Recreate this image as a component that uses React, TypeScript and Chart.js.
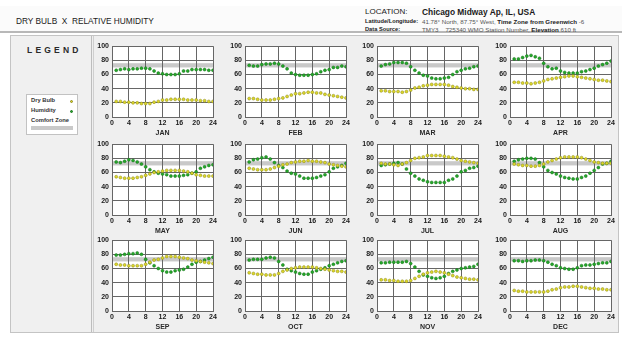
import React, { useEffect, useRef } from "react";
import { Chart, registerables } from "chart.js";
Chart.register(...registerables);

const MONTHS = ["JAN", "FEB", "MAR", "APR", "MAY", "JUN", "JUL", "AUG", "SEP", "OCT", "NOV", "DEC"];
const HOURS = [1, 2, 3, 4, 5, 6, 7, 8, 9, 10, 11, 12, 13, 14, 15, 16, 17, 18, 19, 20, 21, 22, 23, 24];
const X_TICK_STEP = 4;
const Y_TICK_STEP = 20;
const COMFORT_ZONE = [70, 76];

const HUM_JAN = [66, 67, 68, 67, 68, 68, 69, 69, 68, 65, 62, 61, 60, 60, 60, 61, 65, 65, 67, 67, 67, 67, 66, 66];
const DRY_JAN = [22, 22, 21, 21, 20, 20, 19, 19, 19, 21, 22, 24, 24, 25, 25, 25, 25, 24, 24, 24, 23, 23, 22, 22];
const HUM_FEB = [73, 72, 72, 74, 75, 75, 76, 75, 72, 68, 62, 60, 59, 59, 59, 60, 61, 64, 66, 67, 70, 70, 72, 71];
const DRY_FEB = [26, 26, 25, 24, 24, 24, 25, 26, 27, 29, 31, 33, 33, 34, 35, 35, 34, 34, 32, 31, 30, 29, 28, 27];
const HUM_MAR = [72, 74, 75, 77, 77, 77, 76, 71, 66, 62, 59, 58, 55, 54, 54, 55, 56, 60, 64, 66, 68, 69, 71, 72];
const DRY_MAR = [37, 37, 36, 36, 36, 35, 36, 38, 41, 42, 44, 45, 46, 46, 46, 46, 45, 43, 42, 41, 40, 40, 39, 39];
const HUM_APR = [82, 82, 84, 86, 87, 85, 83, 76, 71, 68, 69, 65, 63, 62, 62, 62, 64, 65, 67, 69, 72, 74, 76, 79];
const DRY_APR = [49, 49, 48, 48, 47, 48, 49, 51, 53, 54, 55, 56, 57, 58, 58, 57, 56, 55, 54, 53, 52, 52, 51, 50];
const HUM_MAY = [75, 74, 76, 78, 77, 75, 72, 68, 64, 61, 59, 58, 57, 55, 55, 55, 56, 57, 59, 61, 66, 68, 70, 71];
const DRY_MAY = [54, 53, 52, 52, 52, 53, 54, 56, 58, 60, 61, 62, 63, 63, 63, 63, 62, 61, 59, 57, 56, 55, 55, 55];
const HUM_JUN = [75, 78, 79, 81, 82, 79, 74, 70, 67, 62, 59, 58, 55, 52, 52, 52, 53, 55, 57, 61, 66, 68, 70, 73];
const DRY_JUN = [66, 65, 64, 64, 64, 65, 67, 69, 71, 72, 74, 75, 76, 76, 77, 76, 76, 75, 74, 72, 71, 70, 69, 68];
const HUM_JUL = [70, 71, 72, 73, 74, 72, 65, 59, 55, 51, 49, 47, 46, 46, 46, 46, 49, 51, 55, 61, 63, 66, 67, 69];
const DRY_JUL = [73, 72, 72, 71, 70, 72, 74, 77, 80, 81, 82, 84, 84, 84, 84, 83, 82, 81, 79, 77, 76, 75, 74, 73];
const HUM_AUG = [76, 78, 79, 80, 80, 79, 74, 68, 63, 60, 58, 55, 53, 52, 51, 51, 53, 55, 59, 63, 67, 72, 73, 76];
const DRY_AUG = [72, 71, 70, 70, 69, 69, 70, 72, 75, 77, 79, 81, 82, 82, 82, 82, 81, 79, 77, 75, 74, 73, 73, 73];
const HUM_SEP = [79, 79, 80, 81, 81, 82, 80, 73, 68, 64, 60, 57, 55, 55, 57, 58, 59, 62, 66, 69, 70, 72, 74, 76];
const DRY_SEP = [66, 65, 65, 64, 64, 64, 64, 66, 69, 72, 73, 75, 77, 77, 77, 76, 75, 74, 72, 71, 70, 69, 68, 67];
const HUM_OCT = [72, 73, 73, 73, 75, 76, 75, 70, 65, 59, 57, 55, 53, 52, 52, 55, 57, 59, 61, 64, 66, 68, 70, 71];
const DRY_OCT = [54, 53, 52, 52, 51, 51, 51, 53, 56, 58, 60, 61, 62, 62, 62, 62, 61, 60, 59, 58, 57, 56, 56, 55];
const HUM_NOV = [68, 68, 69, 69, 69, 69, 70, 67, 62, 56, 51, 49, 47, 46, 47, 49, 53, 56, 58, 60, 61, 62, 63, 66];
const DRY_NOV = [44, 44, 43, 43, 42, 42, 42, 43, 46, 49, 52, 54, 55, 56, 55, 54, 52, 50, 48, 47, 46, 45, 45, 44];
const HUM_DEC = [71, 71, 70, 71, 71, 72, 72, 71, 69, 66, 64, 61, 60, 59, 59, 61, 64, 65, 65, 66, 67, 68, 68, 70];
const DRY_DEC = [29, 28, 28, 27, 27, 27, 27, 27, 28, 30, 31, 33, 34, 34, 35, 35, 34, 33, 32, 32, 31, 31, 30, 30];

const HUMIDITY = [HUM_JAN, HUM_FEB, HUM_MAR, HUM_APR, HUM_MAY, HUM_JUN, HUM_JUL, HUM_AUG, HUM_SEP, HUM_OCT, HUM_NOV, HUM_DEC];
const DRY_BULB = [DRY_JAN, DRY_FEB, DRY_MAR, DRY_APR, DRY_MAY, DRY_JUN, DRY_JUL, DRY_AUG, DRY_SEP, DRY_OCT, DRY_NOV, DRY_DEC];

const FONT = "'Liberation Sans', Arial, sans-serif";
const GRID = "#666666";
const BAND = "#c9c9c9";
const DRY_FILL = "#dcd62a";
const DRY_EDGE = "#8c8a1c";
const HUM_FILL = "#25a82a";
const HUM_EDGE = "#147018";

const COL_LEFT = [92, 225, 357, 490];
const ROW_TOP = [39, 137, 233];
const CW = 127;
const CH = 98;

const bgPlugin = {
  id: "bgband",
  beforeDraw(chart: any) {
    const { ctx, chartArea, scales } = chart;
    ctx.save();
    ctx.fillStyle = "#ffffff";
    ctx.fillRect(chartArea.left, chartArea.top, chartArea.right - chartArea.left, chartArea.bottom - chartArea.top);
    const y1 = scales.y.getPixelForValue(COMFORT_ZONE[1]);
    const y0 = scales.y.getPixelForValue(COMFORT_ZONE[0]);
    ctx.fillStyle = BAND;
    ctx.fillRect(chartArea.left, y1, chartArea.right - chartArea.left, y0 - y1);
    ctx.restore();
  },
};

function MonthChart({ idx }: { idx: number }) {
  const ref = useRef<HTMLCanvasElement>(null);
  useEffect(() => {
    if (!ref.current) return;
    const tickFont = { family: FONT, size: 7, weight: "bold" as const };
    const chart = new Chart(ref.current, {
      type: "scatter",
      data: {
        datasets: [
          {
            label: "Dry Bulb",
            data: HOURS.map((h, i) => ({ x: h, y: DRY_BULB[idx][i] })),
            pointRadius: 1.5,
            pointBackgroundColor: DRY_FILL,
            pointBorderColor: DRY_EDGE,
            pointBorderWidth: 0.5,
          },
          {
            label: "Humidity",
            data: HOURS.map((h, i) => ({ x: h, y: HUMIDITY[idx][i] })),
            pointRadius: 1.5,
            pointBackgroundColor: HUM_FILL,
            pointBorderColor: HUM_EDGE,
            pointBorderWidth: 0.5,
          },
        ],
      },
      options: {
        animation: false,
        responsive: false,
        maintainAspectRatio: false,
        layout: { padding: { left: 2, right: 6, top: 4, bottom: 0 } },
        plugins: { legend: { display: false }, tooltip: { enabled: false } },
        scales: {
          x: {
            type: "linear",
            min: 0,
            max: 24,
            ticks: { stepSize: X_TICK_STEP, font: tickFont, color: "#1a1a1a", padding: 2, maxRotation: 0 },
            grid: { color: GRID, drawTicks: false, lineWidth: 1 },
            border: { color: GRID, width: 1 },
            title: { display: true, text: MONTHS[idx], font: tickFont, color: "#2a2a2a", padding: { top: 0, bottom: 0 } },
            afterFit(s: any) {
              s.height = 20;
            },
          },
          y: {
            min: 0,
            max: 100,
            ticks: { stepSize: Y_TICK_STEP, font: tickFont, color: "#1a1a1a", padding: 3 },
            grid: { color: GRID, drawTicks: false, lineWidth: 1 },
            border: { color: GRID, width: 1 },
            afterFit(s: any) {
              s.width = 18;
            },
          },
        },
      },
      plugins: [bgPlugin],
    });
    return () => chart.destroy();
  }, [idx]);
  const col = idx % 4;
  const row = Math.floor(idx / 4);
  return (
    <canvas
      ref={ref}
      width={CW}
      height={CH}
      style={{ position: "absolute", left: COL_LEFT[col], top: ROW_TOP[row], width: CW, height: CH }}
    />
  );
}

export default function App() {
  const small: React.CSSProperties = { position: "absolute", fontFamily: FONT, fontSize: 6.5, color: "#222", whiteSpace: "nowrap" };
  return (
    <div style={{ position: "absolute", left: 0, top: 0, width: 622, height: 340, background: "#ffffff", overflow: "hidden", fontFamily: FONT }}>
      {/* header */}
      <div style={{ position: "absolute", left: 0, top: 6, width: 622, height: 26, background: "#fbfbfb" }} />
      <div style={{ position: "absolute", left: 0, top: 31, width: 622, height: 2, background: "#b8b8b8" }} />
      <div style={{ ...small, left: 16, top: 16, fontSize: 8.3, color: "#1a1a1a" }}>DRY BULB&nbsp; X&nbsp; RELATIVE HUMIDITY</div>
      <div style={{ ...small, left: 365, top: 7, fontSize: 8, color: "#1a1a1a" }}>LOCATION:</div>
      <div style={{ ...small, left: 422, top: 6.5, fontSize: 8.4, fontWeight: "bold", color: "#1a1a1a" }}>Chicago Midway Ap, IL, USA</div>
      <div style={{ ...small, left: 365, top: 18, fontSize: 5.7, fontWeight: "bold" }}>Latitude/Longitude:</div>
      <div style={{ ...small, left: 422, top: 18, fontSize: 6.2, color: "#555" }}>
        41.78° North, 87.75° West, <b style={{ color: "#222" }}>Time Zone from Greenwich</b> -6
      </div>
      <div style={{ ...small, left: 365, top: 26, fontSize: 5.7, fontWeight: "bold" }}>Data Source:</div>
      <div style={{ ...small, left: 422, top: 26, fontSize: 6.2, color: "#555" }}>
        TMY3&nbsp;&nbsp;&nbsp; 725340 WMO Station Number, <b style={{ color: "#222" }}>Elevation</b> 610 ft
      </div>

      {/* panels */}
      <div style={{ position: "absolute", left: 10, top: 35, width: 609, height: 298, background: "#efefef", border: "1px solid #c4c4c4", boxSizing: "border-box" }} />
      <div style={{ position: "absolute", left: 11, top: 36, width: 81, height: 296, background: "#f0f0f0", borderRight: "1px solid #bdbdbd", boxSizing: "border-box" }} />
      <div style={{ position: "absolute", left: 93, top: 36, width: 1, height: 296, background: "#cfcfcf" }} />

      {/* legend */}
      <div style={{ ...small, left: 27, top: 45, fontSize: 8.5, fontWeight: "bold", letterSpacing: 3.2, color: "#2a2a2a" }}>LEGEND</div>
      <div style={{ position: "absolute", left: 26, top: 94, width: 52, height: 41, background: "#ffffff", border: "1px solid #c2c2c2", boxSizing: "border-box" }} />
      <div style={{ ...small, left: 31, top: 97, fontSize: 5.8, fontWeight: "bold", color: "#333" }}>Dry Bulb</div>
      <div style={{ position: "absolute", left: 70, top: 99.5, width: 3, height: 3, borderRadius: 2, background: DRY_FILL, border: `0.5px solid ${DRY_EDGE}`, boxSizing: "border-box" }} />
      <div style={{ ...small, left: 31, top: 107, fontSize: 5.8, fontWeight: "bold", color: "#333" }}>Humidity</div>
      <div style={{ position: "absolute", left: 70, top: 109.5, width: 3, height: 3, borderRadius: 2, background: HUM_FILL, border: `0.5px solid ${HUM_EDGE}`, boxSizing: "border-box" }} />
      <div style={{ ...small, left: 31, top: 117, fontSize: 5.8, fontWeight: "bold", color: "#333" }}>Comfort Zone</div>
      <div style={{ position: "absolute", left: 31, top: 126, width: 42, height: 4, background: BAND }} />

      {MONTHS.map((m, i) => (
        <MonthChart key={m} idx={i} />
      ))}
    </div>
  );
}
